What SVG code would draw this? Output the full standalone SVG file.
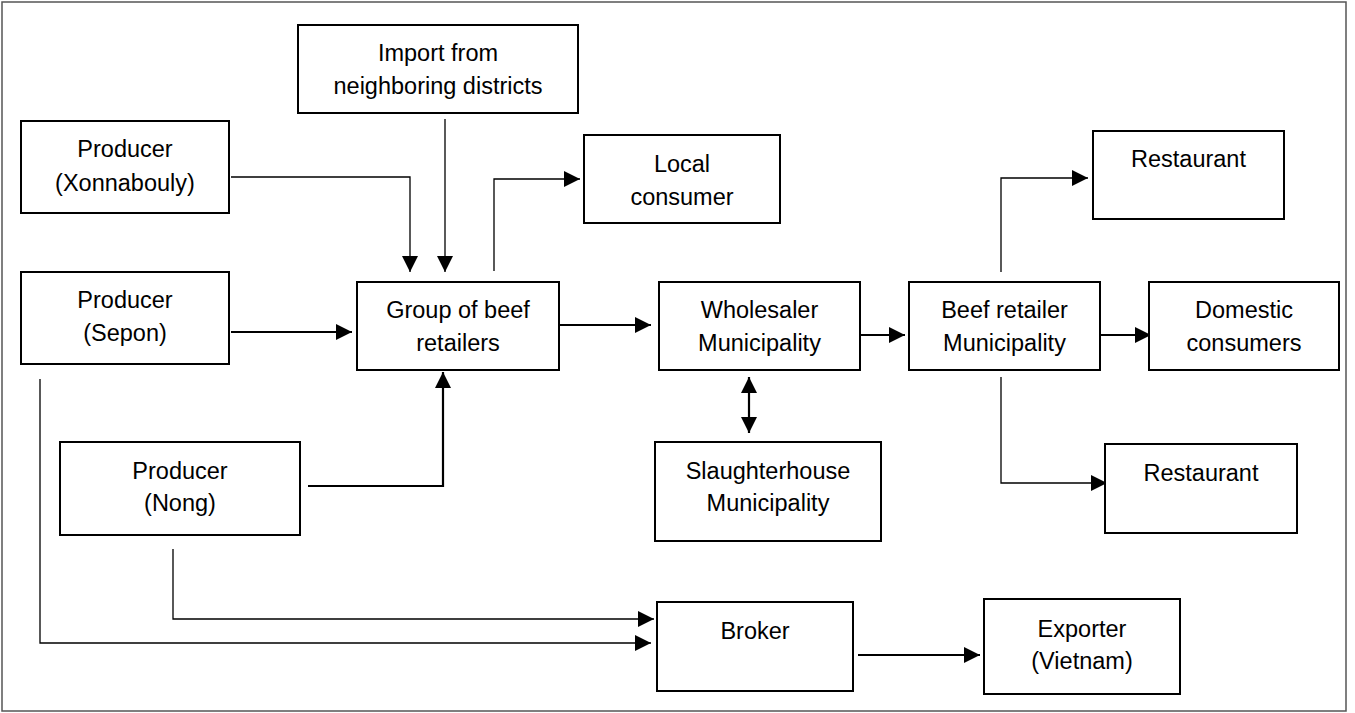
<svg xmlns="http://www.w3.org/2000/svg" width="1355" height="713" viewBox="0 0 1355 713">
<style>
.box{fill:#fff;stroke:#000;stroke-width:2}
.t{font-family:"Liberation Sans",Arial,sans-serif;font-size:23.5px;fill:#000;text-anchor:middle}
.c{fill:none;stroke:#000;stroke-width:1.3}
.b{fill:none;stroke:#000;stroke-width:2.2}
</style>
<defs>
<marker id="ah" markerUnits="userSpaceOnUse" markerWidth="16" markerHeight="16" refX="16" refY="8" orient="auto-start-reverse" viewBox="0 0 16 16">
<path d="M0,0 L16,8 L0,16 z" fill="#000"/>
</marker>
</defs>
<rect x="2" y="2" width="1344" height="709" fill="#fff" stroke="#555" stroke-width="1.5"/>
<g id="connectors">
<path class="c" d="M231,177 H410 V272" marker-end="url(#ah)"/>
<path class="c" d="M445,119 V272" marker-end="url(#ah)"/>
<path class="b" d="M231,332 H352" marker-end="url(#ah)"/>
<path class="c" d="M494,271 V179 H580" marker-end="url(#ah)"/>
<path class="b" d="M308,486 H443 V372" marker-end="url(#ah)"/>
<path class="b" d="M556,325 H651" marker-end="url(#ah)"/>
<path class="b" d="M858,335 H905" marker-end="url(#ah)"/>
<path class="b" d="M1097,335 H1151" marker-end="url(#ah)"/>
<path class="c" d="M1001,272 V178 H1088" marker-end="url(#ah)"/>
<path class="c" d="M1001,377 V483 H1107" marker-end="url(#ah)"/>
<path class="b" d="M749,377 V433" marker-start="url(#ah)" marker-end="url(#ah)"/>
<path class="c" d="M173,549 V619 H654" marker-end="url(#ah)"/>
<path class="c" d="M40,379 V643 H651" marker-end="url(#ah)"/>
<path class="b" d="M858,655 H980" marker-end="url(#ah)"/>
</g>
<g id="import"><rect class="box" x="298" y="25" width="280" height="88"/><text class="t" x="438" y="61">Import from</text><text class="t" x="438" y="94">neighboring districts</text></g>
<g id="producer-xonnabouly"><rect class="box" x="21" y="121" width="208" height="92"/><text class="t" x="125" y="157">Producer</text><text class="t" x="125" y="191">(Xonnabouly)</text></g>
<g id="producer-sepon"><rect class="box" x="21" y="272" width="208" height="92"/><text class="t" x="125" y="308">Producer</text><text class="t" x="125" y="341">(Sepon)</text></g>
<g id="producer-nong"><rect class="box" x="60" y="442" width="240" height="93"/><text class="t" x="180" y="479">Producer</text><text class="t" x="180" y="511">(Nong)</text></g>
<g id="group-beef-retailers"><rect class="box" x="357" y="282" width="202" height="88"/><text class="t" x="458" y="318">Group of beef</text><text class="t" x="458" y="351">retailers</text></g>
<g id="local-consumer"><rect class="box" x="584" y="135" width="196" height="88"/><text class="t" x="682" y="172">Local</text><text class="t" x="682" y="205">consumer</text></g>
<g id="wholesaler"><rect class="box" x="659" y="282" width="201" height="88"/><text class="t" x="759.5" y="318">Wholesaler</text><text class="t" x="759.5" y="351">Municipality</text></g>
<g id="beef-retailer"><rect class="box" x="909" y="282" width="191" height="88"/><text class="t" x="1004.5" y="318">Beef retailer</text><text class="t" x="1004.5" y="351">Municipality</text></g>
<g id="domestic-consumers"><rect class="box" x="1149" y="282" width="190" height="88"/><text class="t" x="1244" y="318">Domestic</text><text class="t" x="1244" y="351">consumers</text></g>
<g id="restaurant-top"><rect class="box" x="1093" y="131" width="191" height="88"/><text class="t" x="1188.5" y="167">Restaurant</text></g>
<g id="slaughterhouse"><rect class="box" x="655" y="442" width="226" height="99"/><text class="t" x="768" y="479">Slaughterhouse</text><text class="t" x="768" y="511">Municipality</text></g>
<g id="restaurant-bottom"><rect class="box" x="1105" y="444" width="192" height="89"/><text class="t" x="1201" y="481">Restaurant</text></g>
<g id="broker"><rect class="box" x="657" y="602" width="196" height="89"/><text class="t" x="755" y="639">Broker</text></g>
<g id="exporter"><rect class="box" x="984" y="599" width="196" height="95"/><text class="t" x="1082" y="637">Exporter</text><text class="t" x="1082" y="669">(Vietnam)</text></g>
</svg>
